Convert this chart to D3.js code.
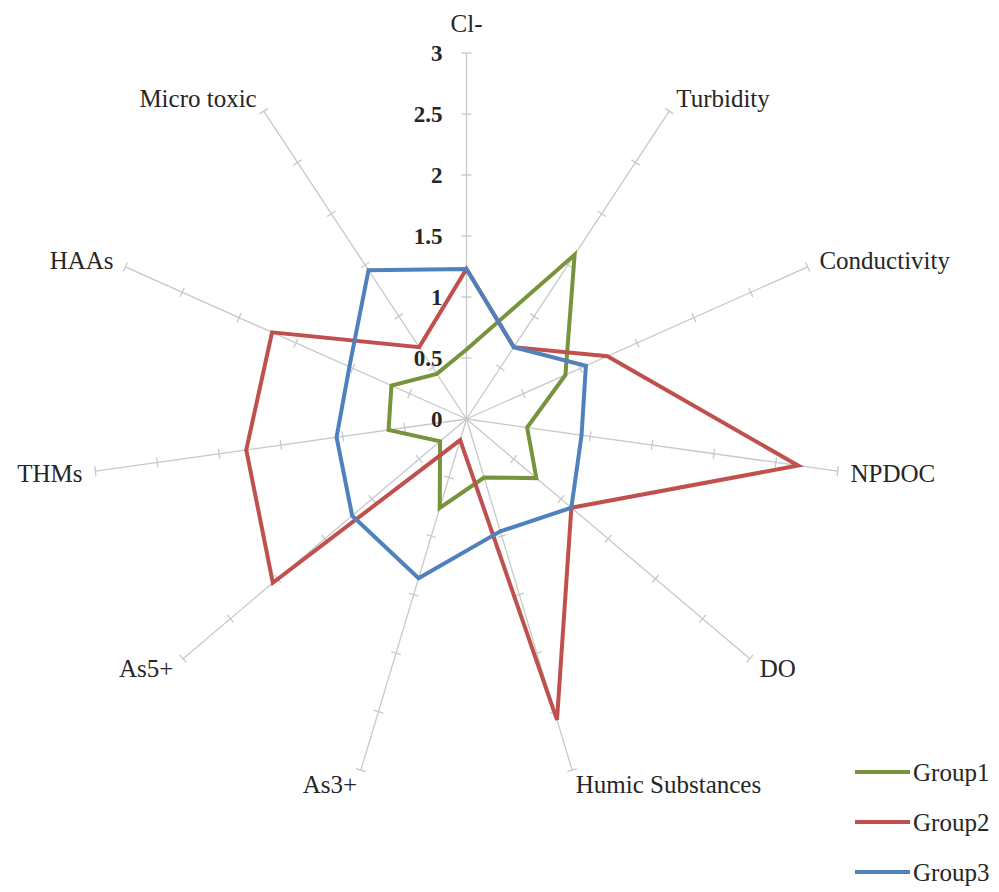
<!DOCTYPE html>
<html>
<head>
<meta charset="utf-8">
<script src="https://cdn.jsdelivr.net/npm/d3@7"></script>
<style>
  body { margin: 0; background: #fff; }
  svg { display: block; }
  svg text { font-family: "Liberation Serif", "DejaVu Serif", "Times New Roman", serif; fill: #262626; }
</style>
</head>
<body>
<div id="chart"></div>
<script>
// axes of the radar, clockwise from the top
const axes = ["Cl-", "Turbidity", "Conductivity", "NPDOC", "DO", "Humic Substances",
              "As3+", "As5+", "THMs", "HAAs", "Micro toxic"];

const group1 = [0.57, 1.60, 0.87, 0.49, 0.74, 0.50, 0.76, 0.28, 0.63, 0.66, 0.44];
const group2 = [1.23, 0.70, 1.24, 2.68, 1.11, 2.57, 0.18, 2.05, 1.78, 1.71, 0.70];
const group3 = [1.23, 0.70, 1.05, 0.93, 1.11, 0.96, 1.36, 1.21, 1.05, 1.03, 1.45];

const seriesNames = ["Group1", "Group2", "Group3"];
const tickValues = [0, 0.5, 1, 1.5, 2, 2.5, 3];

const width = 999, height = 892;
const cx = 466.5, cy = 419;
const colors = ["#77933C", "#C0504D", "#4F81BD"];

// picture is a bit wider than tall, so two radial scales
const rX = d3.scaleLinear().domain([0, 3]).range([0, 375]);
const rY = d3.scaleLinear().domain([0, 3]).range([0, 366]);
const angle = d3.scaleLinear().domain([0, axes.length]).range([0, 2 * Math.PI]);

function px(i, v) { return cx + rX(v) * Math.sin(angle(i)); }
function py(i, v) { return cy - rY(v) * Math.cos(angle(i)); }

const svg = d3.select("#chart").append("svg")
    .attr("width", width)
    .attr("height", height)
    .attr("font-family", "Liberation Serif, DejaVu Serif, serif");

// spokes
const spokes = svg.append("g").attr("class", "spokes");
axes.forEach((a, i) => {
    spokes.append("line")
        .attr("x1", cx).attr("y1", cy)
        .attr("x2", px(i, 3)).attr("y2", py(i, 3))
        .attr("stroke", "#c8c8c8")
        .attr("stroke-width", 1.3);

    // little cross ticks every 0.5
    const dx = px(i, 3) - cx, dy = py(i, 3) - cy;
    const len = Math.sqrt(dx * dx + dy * dy);
    const ux = dx / len, uy = dy / len;
    tickValues.filter(t => t > 0).forEach(t => {
        const x = px(i, t), y = py(i, t);
        spokes.append("line")
            .attr("x1", x - uy * 5).attr("y1", y + ux * 5)
            .attr("x2", x + uy * 5).attr("y2", y - ux * 5)
            .attr("stroke", "#c8c8c8")
            .attr("stroke-width", 1.3);
    });
});

// value labels along the top axis
svg.append("g").selectAll("text")
    .data(tickValues)
    .enter()
    .append("text")
    .attr("x", cx - 24)
    .attr("y", d => cy - rY(d))
    .attr("dy", "0.35em")
    .attr("text-anchor", "end")
    .attr("font-size", 23)
    .attr("font-weight", "bold")
    .text(d => d);

// category labels
svg.append("g").selectAll("text")
    .data(axes)
    .enter()
    .append("text")
    .attr("x", (d, i) => {
        const s = Math.sin(angle(i));
        return px(i, 3) + s * 13;
    })
    .attr("y", (d, i) => {
        const s = Math.sin(angle(i)), c = Math.cos(angle(i));
        const extra = Math.abs(s) < 0.2 ? 15 : 0;
        return py(i, 3) - c * (15 + extra);
    })
    .attr("dy", "0.35em")
    .attr("text-anchor", (d, i) => {
        const s = Math.sin(angle(i));
        return s > 0.1 ? "start" : (s < -0.1 ? "end" : "middle");
    })
    .attr("font-size", 25)
    .text(d => d);

// series
const line = d3.line()
    .x((d, i) => px(i, d))
    .y((d, i) => py(i, d))
    .curve(d3.curveLinearClosed);

svg.append("g").selectAll("path")
    .data([group1, group2, group3])
    .enter()
    .append("path")
    .attr("d", d => line(d))
    .attr("fill", "none")
    .attr("stroke", (d, i) => colors[i])
    .attr("stroke-width", 4)
    .attr("stroke-linejoin", "miter");

// legend
const legend = svg.append("g").selectAll("g")
    .data(seriesNames)
    .enter()
    .append("g")
    .attr("transform", (d, i) => "translate(855," + (772 + i * 50) + ")");

legend.append("line")
    .attr("x1", 0).attr("x2", 55)
    .attr("stroke", (d, i) => colors[i])
    .attr("stroke-width", 4);

legend.append("text")
    .attr("x", 58)
    .attr("dy", "0.35em")
    .attr("font-size", 25)
    .text(d => d);
</script>
</body>
</html>
